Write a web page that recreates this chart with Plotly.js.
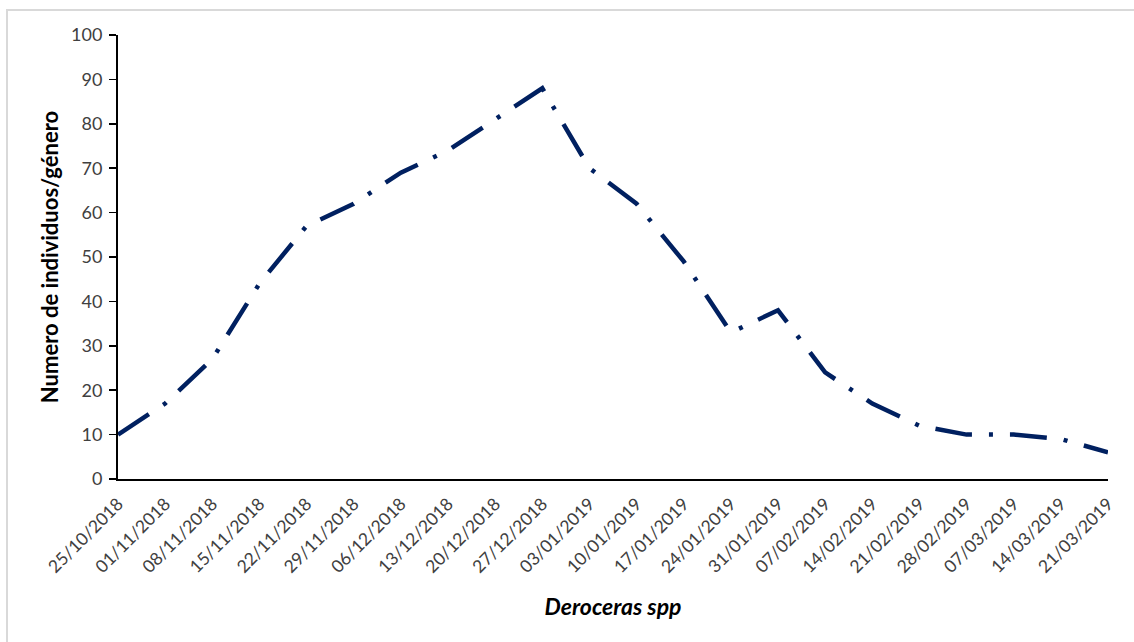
<!DOCTYPE html>
<html>
<head>
<meta charset="utf-8">
<script src="https://cdn.plot.ly/plotly-3.0.1.min.js"></script>
<style>
  html, body { margin: 0; padding: 0; background: #ffffff; }
  #chart { width: 1134px; height: 642px; position: absolute; left: 0; top: 0; }
  #frame { position: absolute; left: 6px; top: 9px; right: -4px; bottom: -4px;
           border-top: 2px solid #d9d9d9; border-left: 2px solid #d9d9d9; pointer-events: none; }
</style>
</head>
<body>
<div id="chart"></div>
<div id="frame"></div>
<script>
const dates = ["25/10/2018","01/11/2018","08/11/2018","15/11/2018","22/11/2018","29/11/2018",
  "06/12/2018","13/12/2018","20/12/2018","27/12/2018","03/01/2019","10/01/2019","17/01/2019",
  "24/01/2019","31/01/2019","07/02/2019","14/02/2019","21/02/2019","28/02/2019","07/03/2019",
  "14/03/2019","21/03/2019"];
const individuos = [10,17,27,44,57,62,69,74,81,88,70,62,49,33,38,24,17,12,10,10,9,6];
const yTicks = [0,10,20,30,40,50,60,70,80,90,100];

const trace = {
  type: 'scatter',
  mode: 'lines',
  x: dates,
  y: individuos,
  line: { color: '#002060', width: 4.5, dash: '37px,17px,4px,17px' },
  hoverinfo: 'x+y'
};

const fam = 'Lato, "Open Sans", sans-serif';

const layout = {
  width: 1134,
  height: 642,
  paper_bgcolor: 'rgba(0,0,0,0)',
  plot_bgcolor: 'rgba(0,0,0,0)',
  showlegend: false,
  margin: { l: 118, r: 26, t: 35, b: 163 },
  xaxis: {
    type: 'category',
    range: [0, dates.length - 1],
    tickangle: -45,
    tickfont: { family: fam, size: 17.5, color: '#404040' },
    ticklabelstandoff: 6,
    showgrid: false,
    zeroline: false,
    showline: true,
    linecolor: '#000000',
    linewidth: 2,
    ticks: '',
    automargin: false,
    title: { text: '<b><i>Deroceras spp</i></b>', font: { family: fam, size: 23, color: '#000000' }, standoff: 23 }
  },
  yaxis: {
    range: [0, 100],
    tickvals: yTicks,
    ticktext: yTicks.map(String),
    tickfont: { family: fam, size: 18, color: '#404040' },
    showgrid: false,
    zeroline: false,
    showline: true,
    linecolor: '#000000',
    linewidth: 2,
    ticks: 'outside',
    ticklen: 7,
    tickwidth: 1.5,
    tickcolor: '#000000',
    ticklabelstandoff: 3,
    automargin: false,
    title: { text: '<b>Numero de individuos/género</b>', font: { family: fam, size: 22, color: '#000000' }, standoff: 6 }
  }
};

Plotly.newPlot('chart', [trace], layout, { displayModeBar: false, staticPlot: true });
</script>
</body>
</html>
